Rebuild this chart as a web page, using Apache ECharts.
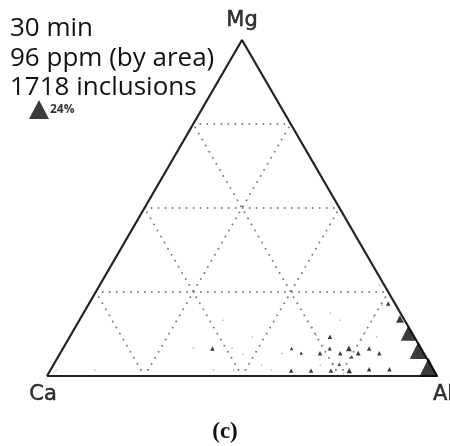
<!DOCTYPE html>
<html>
<head>
<meta charset="utf-8">
<script src="https://cdn.jsdelivr.net/npm/echarts@6/dist/echarts.min.js"></script>
<style>
  html, body { margin: 0; padding: 0; background: #fff; }
  #chart { width: 450px; height: 446px; }
</style>
</head>
<body>
<div id="chart"></div>
<script>
// Ternary composition of inclusions (Ca–Mg–Al, %), with area fraction (%) per composition
var caPct = [1.0, 1.0, 1.0, 0.9,
  53.5, 21.6, 18.5, 21.4, 26.6, 23.4, 36.6, 31.5, 26.4, 21.7,
  33.2, 31.4, 16.8, 23.3, 19.0, 13.3, 11.4, 16.4, 11.2, 1.7,
  41.5, 46.5, 48.4, 43.3, 56.4, 51.3, 41.5, 24.8, 24.9, 24.7,
  24.6, 23.6, 3.6, 7.4, 11.8, 9.6, 14.0, 1.3, 18.0, 96.8,
  86.8, 46.5, 36.4, 28.3, 16.5, 23.2, 58.3];
var mgPct = [17.0, 12.7, 7.6, 2.5,
  8.2, 11.7, 8.2, 6.8, 6.8, 8.2, 1.6, 1.6, 1.6, 1.6,
  8.2, 6.8, 6.8, 3.5, 5.7, 8.2, 6.8, 2.0, 2.0, 21.6,
  11.7, 6.5, 8.3, 3.3, 1.8, 1.8, 1.8, 3.5, 12.2, 14.5,
  9.2, 0.8, 21.1, 17.7, 13.2, 11.7, 10.7, 27.1, 18.8, 1.8,
  1.8, 16.7, 6.8, 3.3, 16.7, 3.3, 8.4];
var alPct = [82.0, 86.3, 91.4, 96.6,
  38.3, 66.7, 73.3, 71.8, 66.6, 68.4, 61.8, 66.9, 72.0, 76.7,
  58.6, 61.8, 76.4, 73.2, 75.3, 78.5, 81.8, 81.6, 86.8, 76.7,
  46.8, 47.0, 43.3, 53.4, 41.8, 46.9, 56.7, 71.7, 62.9, 60.8,
  66.2, 75.6, 75.3, 74.9, 75.0, 78.7, 75.3, 71.6, 63.2, 1.4,
  11.4, 36.8, 56.8, 68.4, 66.8, 73.5, 33.3];
var areaPct = [3.8, 13.5, 17.3, 21.7,
  1.2, 1.2, 2.0, 1.2, 1.2, 1.0, 1.2, 1.2, 1.2, 1.8,
  0.7, 0.7, 1.4, 0.7, 0.7, 1.2, 1.2, 1.2, 1.2, 1.2,
  0.2, 0.2, 0.2, 0.2, 0.2, 0.2, 0.2, 0.2, 0.2, 0.2,
  0.2, 0.2, 0.2, 0.2, 0.2, 0.2, 0.2, 0.2, 0.2, 0.2,
  0.2, 0.2, 0.2, 0.2, 0.2, 0.2, 0.2];

var vertexNames = ['Ca', 'Mg', 'Al'];
var gridTicks = [25, 50, 75];
var infoLines = ['30 min', '96 ppm (by area)', '1718 inclusions'];
var keyArea = 24;
var keyLabel = '24%';
var caption = '(c)';

// Ternary (Ca, Mg, Al) -> plane: Ca at left, Al at right, Mg at top
function toXY(ca, mg, al) {
  var s = ca + mg + al;
  mg = mg / s; al = al / s;
  return [al + mg / 2, mg];
}
function markerSize(a) {
  return 20 * Math.sqrt(a / keyArea);
}

var points = caPct.map(function (ca, i) {
  var p = toXY(ca, mgPct[i], alPct[i]);
  var item = { value: [p[0], p[1], areaPct[i]] };
  if (areaPct[i] < 0.3) item.itemStyle = { color: '#8f8f8f' };
  return item;
});

// Dotted grid lines parallel to each side
var gridSeries = [];
gridTicks.forEach(function (t) {
  var segs = [
    [toXY(100 - t, t, 0), toXY(0, t, 100 - t)],   // constant Mg
    [toXY(100 - t, 0, t), toXY(0, 100 - t, t)],   // constant Al
    [toXY(t, 0, 100 - t), toXY(t, 100 - t, 0)]    // constant Ca
  ];
  segs.forEach(function (seg) {
    gridSeries.push({
      type: 'line', data: seg, symbol: 'none', silent: true, z: 1,
      lineStyle: { color: '#7a7a7a', width: 1.9, type: [0.01, 7], cap: 'round' }
    });
  });
});

var corners = [toXY(100, 0, 0), toXY(0, 100, 0), toXY(0, 0, 100)];

var chart = echarts.init(document.getElementById('chart'), null, { renderer: 'canvas' });
chart.setOption({
  animation: false,
  backgroundColor: '#fff',
  grid: { left: 47, top: 40, width: 390, height: 336 },
  xAxis: { type: 'value', min: 0, max: 1, show: false },
  yAxis: { type: 'value', min: 0, max: 1, show: false },
  title: {
    text: infoLines.join('\n'),
    left: 5, top: 9,
    textStyle: { fontFamily: 'Open Sans', fontSize: 26, lineHeight: 29.5, fontWeight: 'normal', color: '#111' }
  },
  legend: {
    data: [{ name: keyLabel, icon: 'triangle' }],
    left: 24, top: 95, itemWidth: 20, itemHeight: 19, itemGap: 4,
    selectedMode: false,
    textStyle: { fontFamily: 'Open Sans', fontSize: 12, fontWeight: 'bold', color: '#333', padding: [4, 0, 0, -4] }
  },
  graphic: [{
    type: 'text', left: 'center', top: 421,
    style: { text: caption, font: 'bold 23px "Liberation Serif"', fill: '#111' }
  }],
  series: gridSeries.concat([
    {
      type: 'line', data: corners.concat([corners[0]]), symbol: 'none', silent: true, z: 2,
      lineStyle: { color: '#222', width: 2.2 }
    },
    {
      type: 'scatter', data: corners, symbolSize: 0, silent: true, z: 3,
      label: {
        show: true,
        formatter: function (p) { return vertexNames[p.dataIndex]; },
        fontFamily: 'DejaVu Sans', fontSize: 21, color: '#000',
        textBorderColor: '#000', textBorderWidth: 0.5,
        position: 'bottom', distance: 6
      },
      labelLayout: function (p) {
        if (p.dataIndex === 0) return { dx: -4, dy: 2 };
        if (p.dataIndex === 1) return { dy: -36 };
        return { dx: 6, dy: 2 };
      }
    },
    {
      name: keyLabel, type: 'scatter', data: points, z: 5,
      symbol: 'triangle',
      symbolSize: function (v) { return Math.max(1.8, markerSize(v[2])); },
      itemStyle: { color: '#0a0a0a' }
    }
  ])
});
</script>
</body>
</html>
